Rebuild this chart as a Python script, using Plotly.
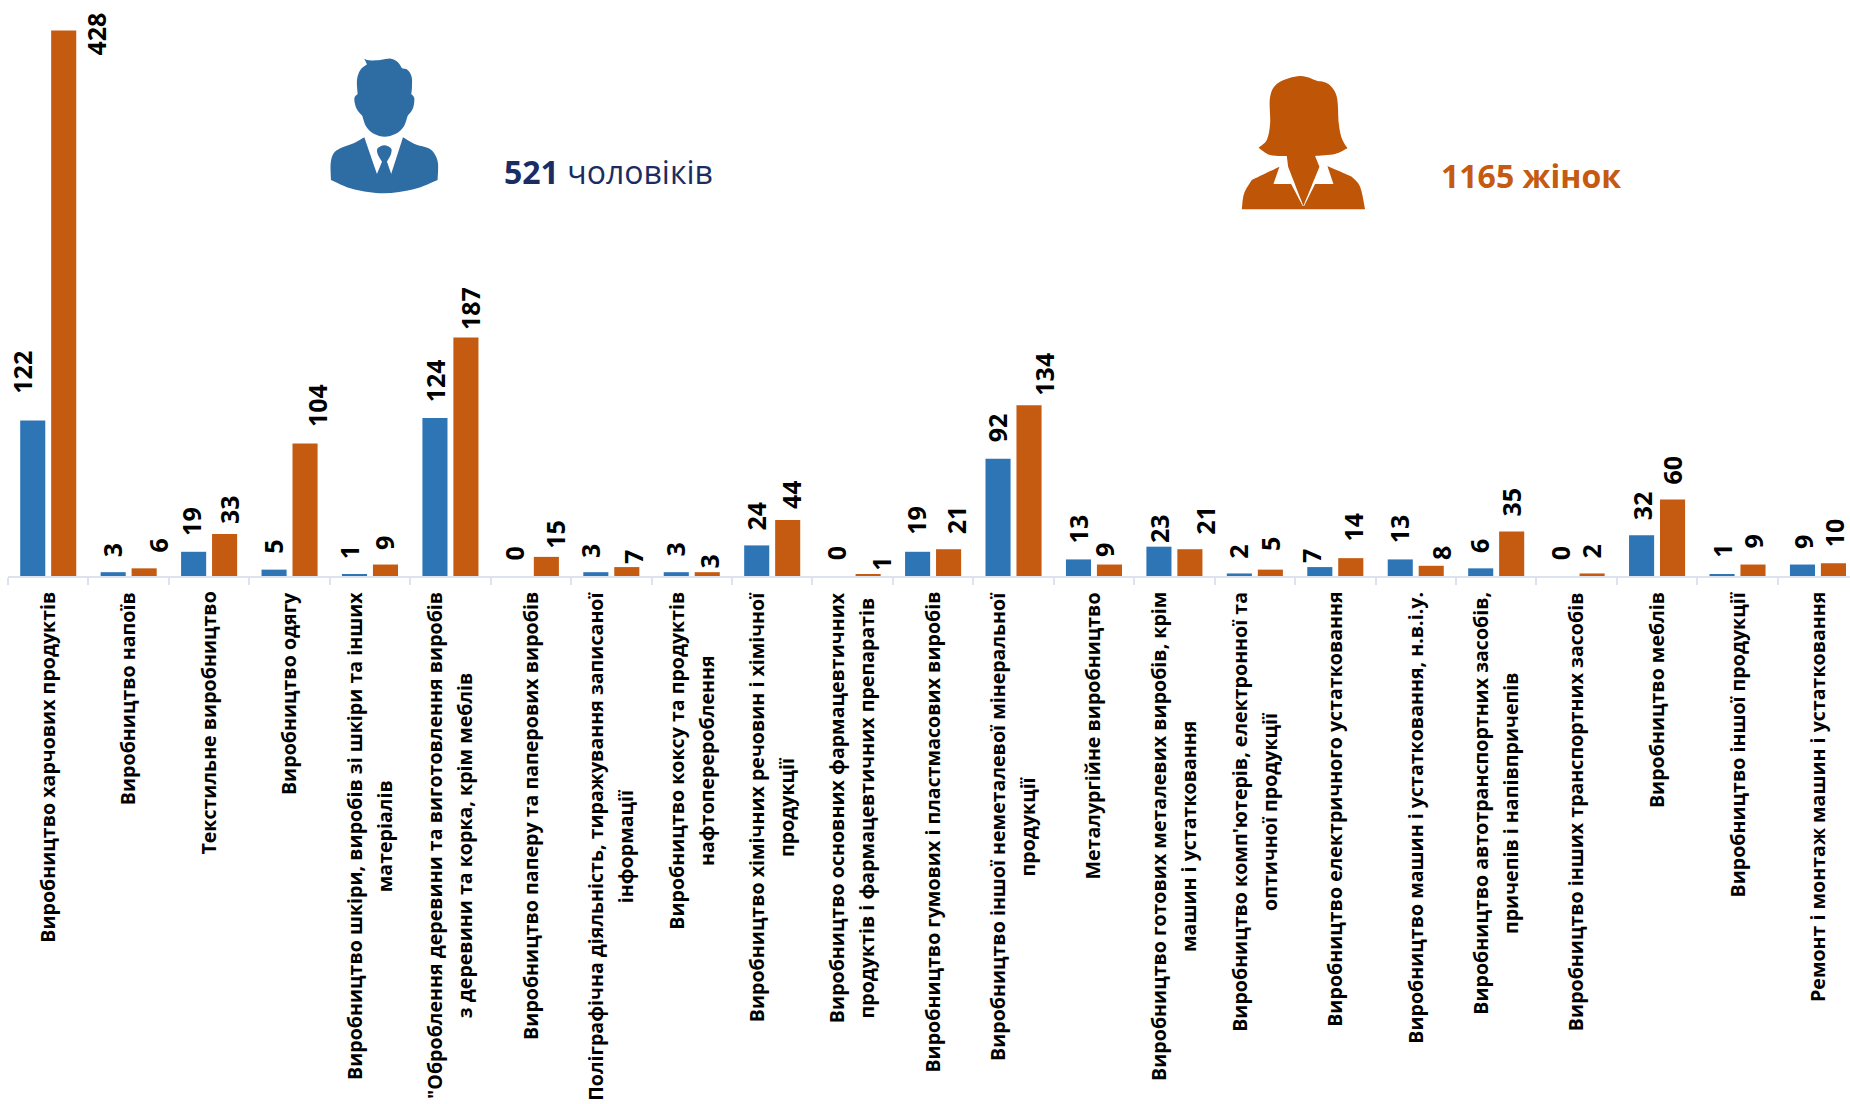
import plotly.graph_objects as go

categories = [
    "Виробництво харчових продуктів",
    "Виробництво напоїв",
    "Текстильне виробництво",
    "Виробництво одягу",
    "Виробництво шкіри, виробів зі шкіри та інших<br>матеріалів",
    "\"Оброблення деревини та виготовлення виробів<br>з деревини та корка, крім меблів",
    "Виробництво паперу та паперових виробів",
    "Поліграфічна діяльність, тиражування записаної<br>інформації",
    "Виробництво коксу та продуктів<br>нафтоперероблення",
    "Виробництво хімічних речовин і хімічної<br>продукції",
    "Виробництво основних фармацевтичних<br>продуктів і фармацевтичних препаратів",
    "Виробництво гумових і пластмасових виробів",
    "Виробництво іншої неметалевої мінеральної<br>продукції",
    "Металургійне виробництво",
    "Виробництво готових металевих виробів, крім<br>машин і устатковання",
    "Виробництво комп'ютерів, електронної та<br>оптичної продукції",
    "Виробництво електричного устатковання",
    "Виробництво машин і устатковання, н.в.і.у.",
    "Виробництво автотранспортних засобів,<br>причепів і напівпричепів",
    "Виробництво інших транспортних засобів",
    "Виробництво меблів",
    "Виробництво іншої продукції",
    "Ремонт і монтаж машин і устатковання",
]
men = [122, 3, 19, 5, 1, 124, 0, 3, 3, 24, 0, 19, 92, 13, 23, 2, 7, 13, 6, 0, 32, 1, 9]
women = [428, 6, 33, 104, 9, 187, 15, 7, 3, 44, 1, 21, 134, 9, 21, 5, 14, 8, 35, 2, 60, 9, 10]

# hand-placed value labels: pixel nudges from the top centre of each bar
men_dx = [-9, 1, 0, 1, -4, 2, 1, -4, 1, 1, 1, 1, 1, 1, 2, 1, -7, 1, 1, 1, 2, 2, 2]
men_dy = [29, 17, 18, 18, 18, 18, 18, 16, 18, 17, 18, 19, 18, 18, 6, 17, 6, 18, 17, 18, 17, 19, 18]
women_dx = [34, 16, 7, 14, 0, 6, 11, 8, 4, 6, 15, 9, 17, -4, 17, 1, 4, 12, 1, 1, 1, 2, 2]
women_dy = [-23, 18, 12, 18, 17, 10, 10, 5, 6, 13, 6, 17, 11, 10, 17, 21, 19, 8, 17, 17, 17, 18, 18]

total_men = "521"
total_women = "1165"

W, H = 1850, 1104
L, T, AXIS_Y = 7.6, 0, 576
STEP = 80.46
PX_PER_UNIT = 1.2748
FONT = "Open Sans"
BLUE, ORANGE = "#2E75B6", "#C55A11"
AXIS = "#DCE3EF"
BAR_OFFSET = 15.5 / STEP
LABEL_NUDGE_X, LABEL_NUDGE_Y = -2, -3


def px(x):
    return (x - L) / (W - L)


def py(y):
    return 1 - (y - T) / (AXIS_Y - T)


def smooth(pts):
    """Catmull-Rom run through the points, as cubic segments."""
    out = ""
    for i in range(len(pts) - 1):
        p0 = pts[max(i - 1, 0)]
        p1, p2 = pts[i], pts[i + 1]
        p3 = pts[min(i + 2, len(pts) - 1)]
        c1 = (p1[0] + (p2[0] - p0[0]) / 6, p1[1] + (p2[1] - p0[1]) / 6)
        c2 = (p2[0] - (p3[0] - p1[0]) / 6, p2[1] - (p3[1] - p1[1]) / 6)
        out += "C %.5f,%.5f %.5f,%.5f %.5f,%.5f " % (c1 + c2 + tuple(p2))
    return out


def contour(runs, ox, oy):
    conv = [[(px(ox + x / 3), py(oy + y / 3)) for x, y in r] for r in runs]
    d = "M %.5f,%.5f " % conv[0][0]
    for r in conv:
        d += smooth(r)
    return d + "Z"


male_icon = [
    [[(192, 86), (205, 91), (240, 90), (272, 86), (292, 96), (305, 115)],
     [(305, 115), (322, 120), (334, 140), (335, 170), (333, 192)],
     [(333, 192), (342, 205), (338, 235), (322, 258)],
     [(322, 258), (310, 290), (285, 312), (253, 320), (222, 312), (198, 290), (186, 258)],
     [(186, 258), (168, 235), (162, 205), (172, 192)],
     [(172, 192), (170, 150), (180, 120), (200, 103)],
     [(200, 103), (192, 86)]],
    [[(192, 322), (160, 340), (120, 355), (100, 370), (91, 400), (92, 450)],
     [(92, 450), (160, 478), (250, 490), (340, 478), (412, 450)],
     [(412, 450), (413, 400), (403, 372), (385, 355), (345, 343), (308, 322)],
     [(308, 322), (273, 432)], [(273, 432), (260, 395)],
     [(260, 395), (272, 372), (272, 355), (252, 346), (232, 355), (232, 372), (245, 395)],
     [(245, 395), (230, 432)], [(230, 432), (192, 322)]],
]
female_icon = [
    [[(115, 263), (140, 240), (150, 190), (150, 110), (175, 68), (240, 48), (290, 62)],
     [(290, 62), (325, 72), (350, 110), (356, 190), (365, 235), (382, 265)],
     [(382, 265), (345, 282), (285, 288)],
     [(285, 288), (298, 320)], [(298, 320), (250, 438)], [(250, 438), (204, 320)], [(204, 320), (200, 288)],
     [(200, 288), (150, 285), (115, 263)]],
    [[(65, 448), (72, 400), (95, 360)], [(95, 360), (178, 320)], [(178, 320), (160, 372)],
     [(160, 372), (213, 372)], [(213, 372), (248, 438)], [(248, 438), (252, 438)],
     [(252, 438), (285, 372)], [(285, 372), (340, 372)], [(340, 372), (322, 318)],
     [(322, 318), (395, 350)], [(395, 350), (420, 380), (435, 448)], [(435, 448), (65, 448)]],
]

fig = go.Figure()
fig.add_bar(x=categories, y=men, name="чоловіки", marker_color=BLUE, marker_line_width=0)
fig.add_bar(x=categories, y=women, name="жінки", marker_color=ORANGE, marker_line_width=0)

ann = []
for i, cat in enumerate(categories):
    ann.append(dict(
        x=i, xref="x", xshift=-1, y=py(591), yref="paper", yanchor="top", xanchor="center",
        text="<br>".join('<span style="font-size:19.6px">%s</span>' % s for s in cat.split("<br>")),
        showarrow=False, textangle=-90, align="center", borderpad=0,
        font=dict(family=FONT, size=23, color="#000000", weight=700),
    ))
for vals, dxs, dys, sign in ((men, men_dx, men_dy, -1), (women, women_dx, women_dy, 1)):
    for i, v in enumerate(vals):
        ann.append(dict(
            x=i + sign * BAR_OFFSET, xref="x", y=v, yref="y",
            xanchor="center", yanchor="bottom",
            xshift=dxs[i] + LABEL_NUDGE_X, yshift=dys[i] + LABEL_NUDGE_Y,
            text=str(v), showarrow=False, textangle=-90, borderpad=0,
            font=dict(family=FONT, size=25, color="#000000", weight=700),
        ))
ann.append(dict(
    x=px(501.5), y=py(171.5), xref="paper", yref="paper", xanchor="left", yanchor="middle",
    text="<b>%s</b> чоловіків" % total_men, showarrow=False,
    font=dict(family=FONT, size=32, color="#1B2C63"),
))
ann.append(dict(
    x=px(1439), y=py(175.5), xref="paper", yref="paper", xanchor="left", yanchor="middle",
    text="<b>%s жінок</b>" % total_women, showarrow=False,
    font=dict(family=FONT, size=32, color="#C55A11"),
))

shapes = []
for runs in male_icon:
    shapes.append(dict(type="path", xref="paper", yref="paper", path=contour(runs, 300, 30),
                       fillcolor="#2E6DA4", line_width=0))
for runs in female_icon:
    shapes.append(dict(type="path", xref="paper", yref="paper", path=contour(runs, 1220, 60),
                       fillcolor="#BF5607", line_width=0))

fig.update_layout(
    width=W, height=H, autosize=False,
    margin=dict(l=L, r=0, t=T, b=H - AXIS_Y, pad=0),
    paper_bgcolor="#FFFFFF", plot_bgcolor="#FFFFFF",
    barmode="group", bargap=0.23, bargroupgap=0.19,
    showlegend=False,
    annotations=ann, shapes=shapes,
    font=dict(family=FONT),
)
fig.update_xaxes(
    type="category", categoryorder="array", categoryarray=categories,
    range=[-0.5, (W - L) / STEP - 0.5], showgrid=False, zeroline=False,
    showticklabels=False, showline=True, linecolor=AXIS, linewidth=2,
    ticks="outside", tickson="boundaries", ticklen=7, tickcolor=AXIS, tickwidth=1.5,
)
fig.update_yaxes(range=[0, AXIS_Y / PX_PER_UNIT], visible=False)
fig.write_html("out.html", config=dict(displayModeBar=False),
               post_script="document.body.style.margin='0';")
